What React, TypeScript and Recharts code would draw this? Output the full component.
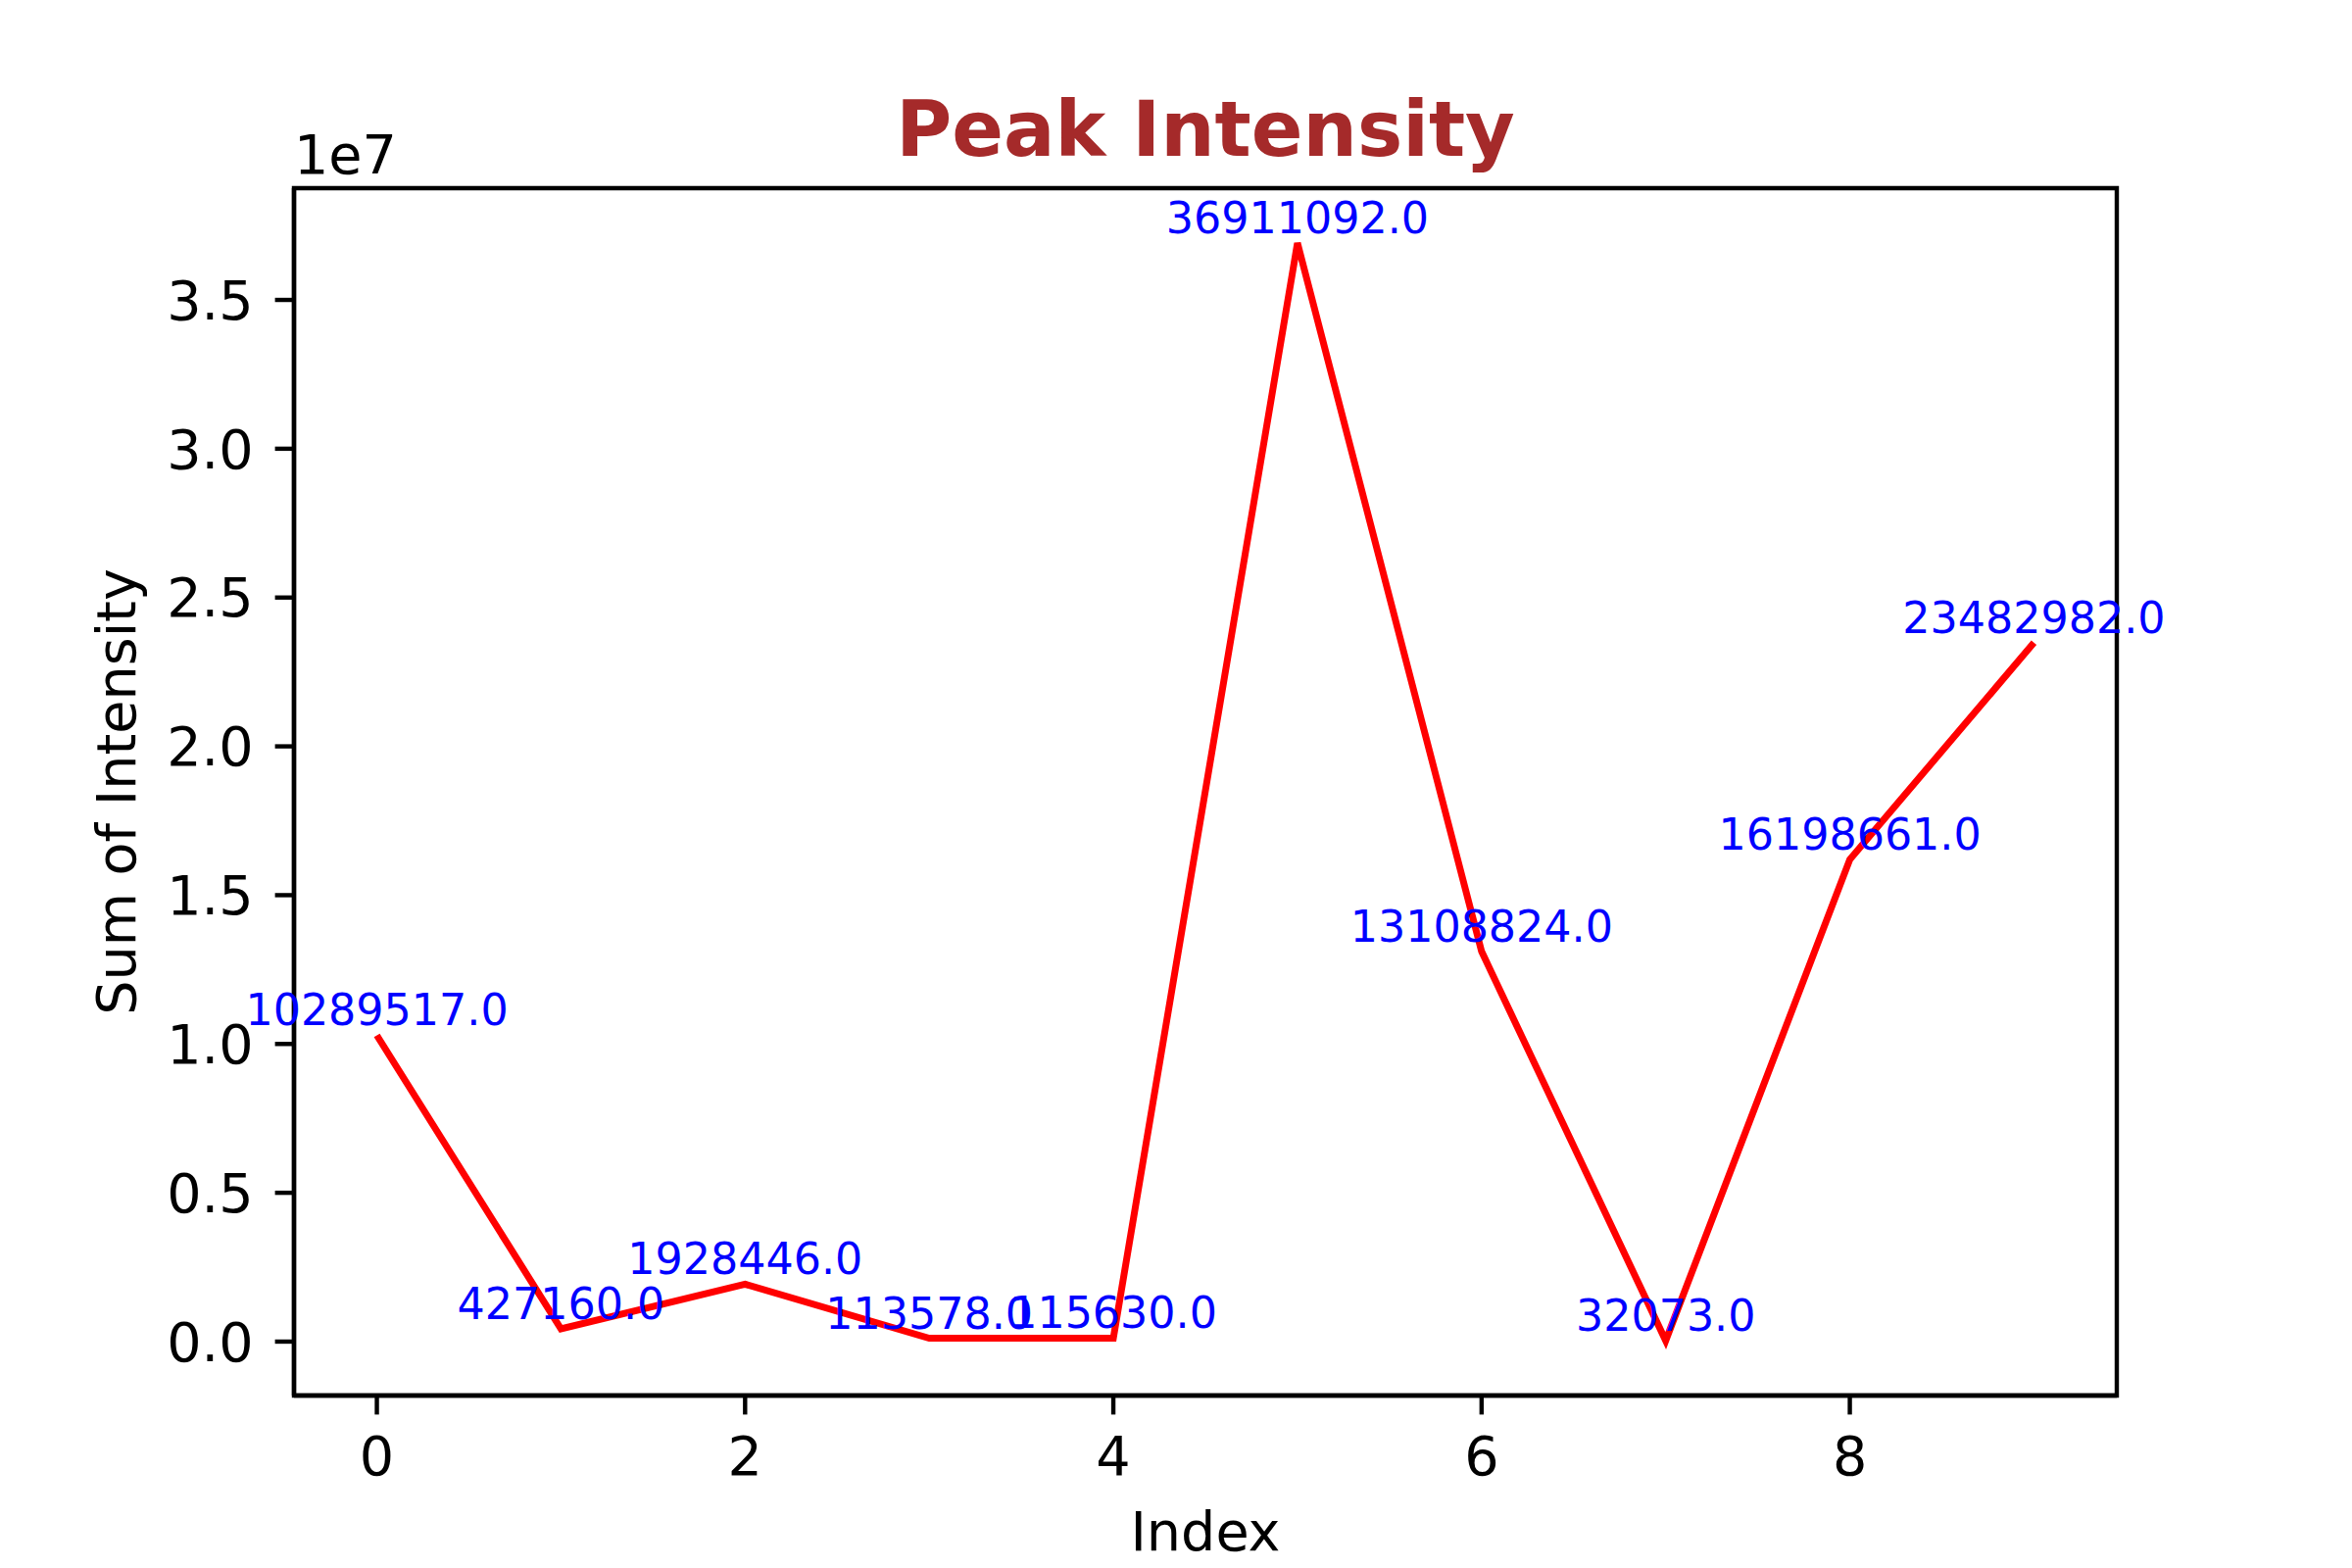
import React from 'react';
import { LineChart, Line, XAxis, YAxis, ReferenceArea } from 'recharts';

const indices = [0, 1, 2, 3, 4, 5, 6, 7, 8, 9];
const intensities = [10289517, 427160, 1928446, 113578, 115630, 36911092, 13108824, 32073, 16198661, 23482982];
const xTicks = [0, 2, 4, 6, 8];
const yTicks = [0, 5000000, 10000000, 15000000, 20000000, 25000000, 30000000, 35000000];
const xDomain = [-0.45, 9.45];
const yDomain = [-1811878, 38755043];

const data = indices.map((idx, i) => ({ index: idx, value: intensities[i] }));

const FONT = '"DejaVu Sans", sans-serif';
const TICK_FS = 55.6;
const ANN_FS = 44.4;

const renderValueLabel = (props: any) => {
  const { x, y, value } = props;
  if (x == null || y == null) return null;
  return (
    <text
      x={x}
      y={y - 10}
      textAnchor="middle"
      fill="#0000ff"
      fontSize={ANN_FS}
      fontFamily={FONT}
    >
      {Number(value).toFixed(1)}
    </text>
  );
};

const YLabel = (props: any) => {
  const vb = props.viewBox || { x: 0, y: 192, width: 300, height: 1232 };
  const cx = vb.x + 138;
  const cy = vb.y + vb.height / 2;
  return (
    <text
      x={cx}
      y={cy}
      transform={`rotate(-90 ${cx} ${cy})`}
      textAnchor="middle"
      fill="#000"
      fontSize={TICK_FS}
      fontFamily={FONT}
    >
      Sum of Intensity
    </text>
  );
};

const XLabel = (props: any) => {
  const vb = props.viewBox || { x: 300, y: 1424, width: 1860, height: 176 };
  return (
    <text
      x={vb.x + vb.width / 2}
      y={vb.y + 158}
      textAnchor="middle"
      fill="#000"
      fontSize={TICK_FS}
      fontFamily={FONT}
    >
      Index
    </text>
  );
};

export default function App() {
  const axisStroke = { stroke: '#000', strokeWidth: 4.4 };
  const tickLine = { stroke: '#000', strokeWidth: 4.4 };
  const tickStyle = { fill: '#000', fontSize: TICK_FS, fontFamily: FONT };
  return (
    <div style={{ position: 'absolute', left: 0, top: 0, width: 2400, height: 1600, background: '#fff' }}>
      <LineChart
        width={2400}
        height={1600}
        data={data}
        margin={{ top: 192, right: 240, bottom: 0, left: 0 }}
      >
        <XAxis
          dataKey="index"
          type="number"
          domain={xDomain}
          ticks={xTicks}
          height={176}
          axisLine={axisStroke}
          tickLine={tickLine}
          tickSize={19.4}
          tickMargin={22}
          tick={tickStyle}
          allowDataOverflow
          label={<XLabel />}
        />
        <YAxis
          type="number"
          domain={yDomain}
          ticks={yTicks}
          width={300}
          axisLine={axisStroke}
          tickLine={tickLine}
          tickSize={19.4}
          tickMargin={22}
          tick={tickStyle}
          tickFormatter={(v: number) => (v / 1e7).toFixed(1)}
          allowDataOverflow
          label={<YLabel />}
        />
        <ReferenceArea
          x1={xDomain[0]}
          x2={xDomain[1]}
          y1={yDomain[0]}
          y2={yDomain[1]}
          fill="none"
          fillOpacity={0}
          stroke="#000"
          strokeWidth={4.4}
          strokeOpacity={1}
          ifOverflow="visible"
        />
        <Line
          type="linear"
          dataKey="value"
          stroke="#ff0000"
          strokeWidth={7}
          dot={false}
          activeDot={false}
          isAnimationActive={false}
          label={renderValueLabel}
        />
      </LineChart>
      <svg
        width={2400}
        height={1600}
        style={{ position: 'absolute', left: 0, top: 0, pointerEvents: 'none' }}
      >
        <text
          x={1230}
          y={159}
          textAnchor="middle"
          fill="#a52a2a"
          fontSize={77.8}
          fontWeight="bold"
          fontFamily={FONT}
        >
          Peak Intensity
        </text>
        <text x={300} y={177} textAnchor="start" fill="#000" fontSize={TICK_FS} fontFamily={FONT}>
          1e7
        </text>
      </svg>
    </div>
  );
}
